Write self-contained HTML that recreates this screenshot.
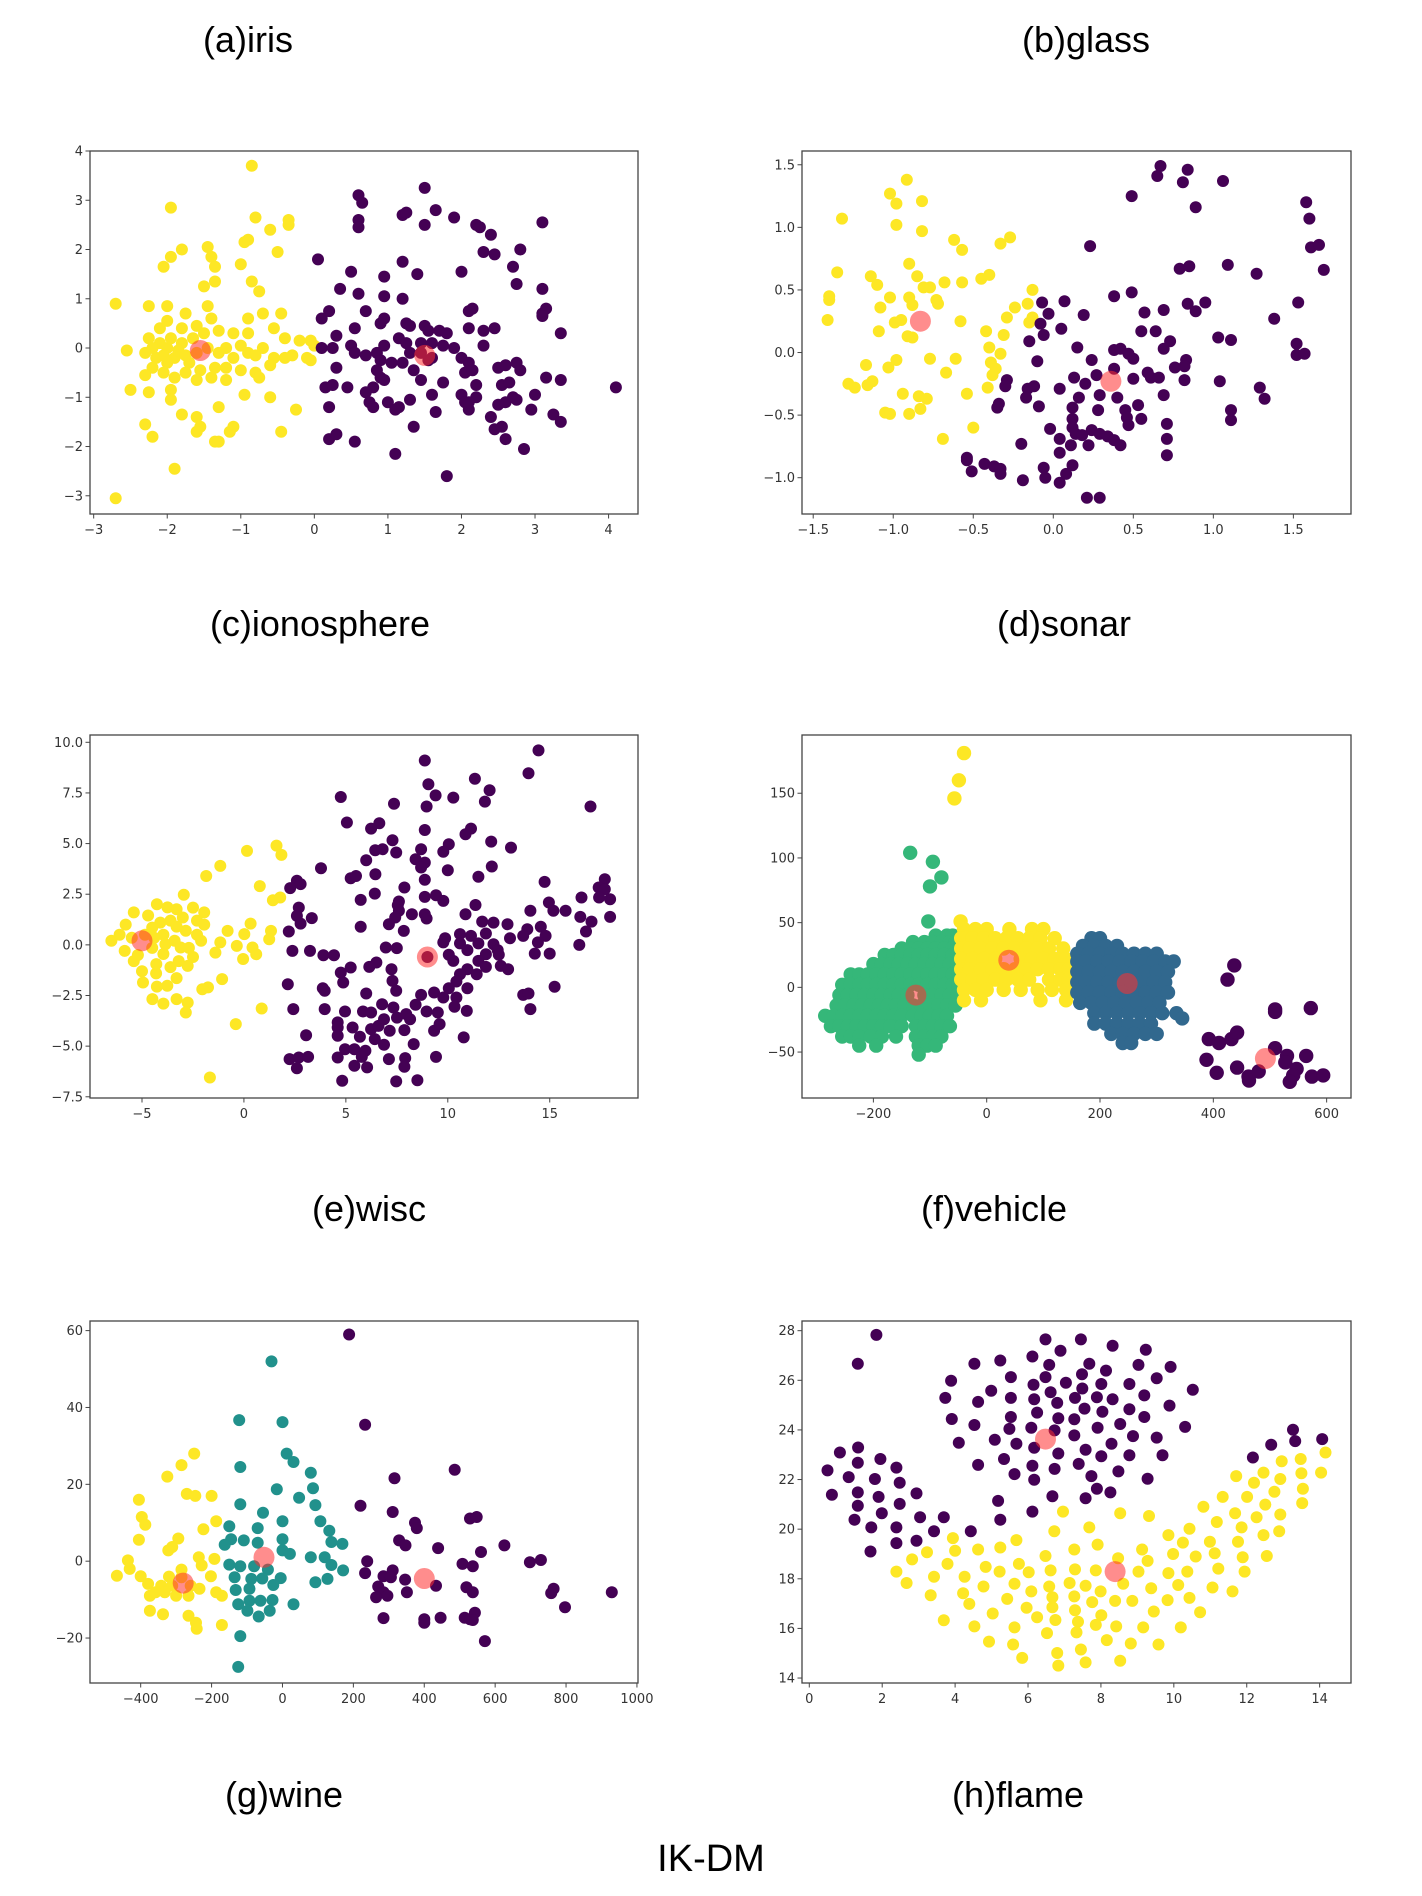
<!DOCTYPE html>
<html><head><meta charset="utf-8"><style>
html,body{margin:0;padding:0;background:#fff;}
#page{position:relative;width:1422px;height:1896px;overflow:hidden;background:#fff;font-family:"Liberation Sans",sans-serif;}
.title{position:absolute;font-size:36px;color:#000;white-space:nowrap;transform:translateX(-50%);line-height:1;}
svg{position:absolute;left:0;top:0;}
</style></head><body>
<div id="page">
<div class="title" style="left:248px;top:22px">(a)iris</div>
<div class="title" style="left:1086px;top:22px">(b)glass</div>
<div class="title" style="left:320px;top:606px">(c)ionosphere</div>
<div class="title" style="left:1064px;top:606px">(d)sonar</div>
<div class="title" style="left:369px;top:1191px">(e)wisc</div>
<div class="title" style="left:994px;top:1191px">(f)vehicle</div>
<div class="title" style="left:284px;top:1777px">(g)wine</div>
<div class="title" style="left:1018px;top:1777px">(h)flame</div>
<div class="title" style="left:711px;top:1840px;font-size:38px">IK-DM</div>
<svg id="chart" width="1422" height="1896" xmlns="http://www.w3.org/2000/svg"></svg>
</div>
<script>
const YEL="#fde725",PUR="#440154",GRN="#35b779",BLU="#31688e",TEA="#21918c";
// ---- iris ----
const irisXTicks=[-3,-2,-1,0,1,2,3,4];
const irisYTicks=[-3,-2,-1,0,1,2,3,4];
const irisYellow=[[-0.85,3.7],[-1.95,2.85],[-0.8,2.65],[-0.35,2.6],[-0.35,2.5],[-0.6,2.4],[-1.45,2.05],[-1.8,2.0],[-1.95,1.85],[-2.05,1.65],[-0.95,2.15],[-0.9,2.2],[-0.5,1.95],[-1.4,1.85],[-1.35,1.65],[-1.0,1.7],[-1.35,1.35],[-1.5,1.25],[-0.85,1.35],[-0.75,1.15],[-2.7,0.9],[-2.25,0.85],[-2.0,0.85],[-1.75,0.7],[-1.45,0.85],[-1.4,0.6],[-2.0,0.55],[-0.7,0.7],[-0.45,0.7],[-0.9,0.6],[-0.55,0.4],[-2.1,0.4],[-1.6,0.45],[-1.8,0.4],[-1.3,0.35],[-1.1,0.3],[-0.9,0.3],[-0.4,0.2],[-0.2,0.15],[-0.05,0.15],[0.0,0.05],[-2.55,-0.05],[-2.25,0.2],[-2.3,-0.1],[-2.15,-0.2],[-2.0,0.0],[-1.9,-0.2],[-1.8,0.1],[-1.7,-0.3],[-1.65,0.2],[-1.45,0.0],[-1.3,-0.1],[-1.2,0.0],[-1.1,-0.2],[-1.0,0.05],[-0.9,-0.1],[-0.8,-0.15],[-0.7,0.0],[-0.55,-0.2],[-0.4,-0.2],[-0.3,-0.15],[-0.1,-0.2],[-0.05,-0.25],[-2.2,-0.4],[-2.05,-0.5],[-1.9,-0.6],[-1.75,-0.5],[-2.3,-0.55],[-1.55,-0.45],[-1.35,-0.4],[-1.2,-0.4],[-1.0,-0.45],[-0.8,-0.5],[-0.6,-0.35],[-1.6,-0.65],[-1.4,-0.6],[-1.2,-0.65],[-0.75,-0.6],[-2.5,-0.85],[-2.25,-0.9],[-1.95,-0.85],[-1.95,-1.05],[-0.95,-0.95],[-0.6,-1.0],[-0.25,-1.25],[-1.3,-1.2],[-1.8,-1.35],[-1.6,-1.4],[-1.55,-1.6],[-1.6,-1.7],[-1.1,-1.6],[-1.15,-1.7],[-0.45,-1.7],[-2.3,-1.55],[-2.2,-1.8],[-1.35,-1.9],[-1.3,-1.9],[-1.9,-2.45],[-2.7,-3.05],[-2.0,-0.3],[-2.1,0.1],[-1.85,-0.05],[-1.6,-0.1],[-1.5,0.3],[-2.2,0.0],[-2.05,-0.15],[-1.75,-0.15],[-1.95,0.2]];
const irisPurple=[[0.05,1.8],[0.5,1.55],[0.35,1.2],[0.6,1.1],[0.6,3.1],[0.65,2.95],[0.6,2.6],[0.6,2.45],[1.2,2.7],[1.25,2.75],[1.5,3.25],[1.65,2.8],[1.5,2.5],[1.9,2.65],[2.2,2.5],[2.25,2.45],[2.4,2.3],[3.1,2.55],[2.3,1.95],[2.45,1.9],[2.8,2.0],[2.7,1.65],[1.2,1.75],[0.95,1.45],[1.4,1.5],[2.0,1.55],[2.75,1.3],[3.1,1.2],[0.95,1.05],[1.2,1.0],[0.1,0.6],[0.2,0.75],[0.7,0.75],[0.95,0.6],[0.9,0.5],[0.55,0.4],[1.25,0.5],[1.3,0.45],[1.5,0.45],[1.55,0.35],[1.7,0.35],[1.8,0.3],[2.1,0.75],[2.15,0.8],[2.1,0.4],[2.3,0.35],[2.45,0.4],[3.1,0.7],[3.15,0.8],[3.1,0.65],[3.35,0.3],[0.3,0.25],[0.1,0.0],[0.25,0.0],[0.5,0.05],[0.55,-0.1],[0.7,-0.15],[0.85,-0.1],[0.95,0.05],[1.15,0.2],[1.25,0.1],[1.3,-0.1],[1.45,0.1],[1.6,0.1],[1.75,0.05],[1.9,0.0],[2.3,0.05],[0.9,-0.25],[1.05,-0.3],[1.2,-0.3],[1.35,-0.45],[1.45,-0.65],[0.3,-0.4],[0.85,-0.45],[0.9,-0.6],[0.8,-0.8],[0.95,-0.65],[0.15,-0.8],[0.25,-0.75],[0.45,-0.8],[0.7,-0.9],[0.75,-1.1],[0.8,-1.2],[1.0,-1.1],[1.15,-1.2],[1.3,-1.05],[1.6,-0.95],[1.75,-0.7],[2.0,-0.2],[2.1,-0.3],[2.05,-0.5],[2.15,-0.45],[2.2,-0.75],[2.0,-0.95],[2.05,-1.1],[2.1,-1.25],[2.2,-1.0],[2.5,-0.4],[2.6,-0.35],[2.75,-0.3],[2.8,-0.45],[2.55,-0.75],[2.65,-0.7],[2.6,-1.1],[2.7,-1.0],[2.75,-1.05],[2.5,-1.15],[3.0,-0.95],[3.15,-0.6],[3.35,-0.65],[2.95,-1.25],[3.25,-1.35],[3.35,-1.5],[2.4,-1.4],[2.45,-1.65],[2.55,-1.6],[2.6,-1.85],[2.85,-2.05],[1.65,-1.3],[1.35,-1.6],[1.1,-1.25],[0.2,-1.2],[0.2,-1.85],[0.3,-1.75],[0.55,-1.9],[1.1,-2.15],[1.8,-2.6],[4.1,-0.8],[1.6,-0.2],[1.45,-0.1],[1.55,-0.25],[2.1,-1.1]];
const irisCenters=[[-1.55,-0.05],[1.5,-0.15]];
// ---- glass ----
const glassXTicks=[-1.5,-1.0,-0.5,0.0,0.5,1.0,1.5];
const glassYTicks=[-1.0,-0.5,0.0,0.5,1.0,1.5];
const glassYellow=[[-0.915,1.38],[-1.02,1.27],[-0.98,1.19],[-0.82,1.21],[-1.32,1.07],[-0.98,1.02],[-0.82,0.97],[-0.62,0.9],[-0.57,0.82],[-0.33,0.87],[-0.27,0.92],[-0.9,0.71],[-1.35,0.64],[-1.14,0.61],[-1.1,0.54],[-0.85,0.61],[-0.81,0.52],[-0.77,0.52],[-0.68,0.56],[-0.57,0.56],[-0.45,0.59],[-0.4,0.62],[-0.13,0.5],[-1.4,0.45],[-1.4,0.42],[-1.02,0.44],[-0.9,0.44],[-0.88,0.38],[-0.73,0.42],[-0.72,0.39],[-1.08,0.36],[-0.24,0.36],[-0.16,0.39],[-1.41,0.26],[-0.99,0.24],[-0.95,0.26],[-0.58,0.25],[-0.29,0.28],[-0.13,0.28],[-0.15,0.24],[-1.09,0.17],[-0.42,0.17],[-0.31,0.14],[-0.91,0.13],[-0.88,0.12],[-0.4,0.04],[-0.33,-0.01],[-0.98,-0.06],[-1.03,-0.12],[-1.17,-0.1],[-0.77,-0.05],[-0.61,-0.05],[-0.39,-0.08],[-0.36,-0.13],[-0.38,-0.18],[-0.67,-0.16],[-1.28,-0.25],[-1.24,-0.28],[-1.16,-0.26],[-1.13,-0.23],[-0.41,-0.28],[-0.94,-0.33],[-0.84,-0.35],[-0.79,-0.37],[-0.54,-0.33],[-1.05,-0.48],[-1.02,-0.49],[-0.9,-0.49],[-0.83,-0.45],[-0.5,-0.6],[-0.69,-0.69]];
const glassPurple=[[0.67,1.49],[0.65,1.41],[0.84,1.46],[0.81,1.36],[1.06,1.37],[0.49,1.25],[0.89,1.16],[1.58,1.2],[1.6,1.07],[1.61,0.84],[1.66,0.86],[1.69,0.66],[0.23,0.85],[0.79,0.67],[0.85,0.69],[1.09,0.7],[1.27,0.63],[0.38,0.45],[0.49,0.48],[-0.07,0.4],[0.07,0.41],[-0.03,0.31],[0.19,0.3],[0.57,0.32],[0.69,0.34],[0.84,0.39],[0.89,0.33],[0.95,0.4],[1.53,0.4],[1.38,0.27],[-0.08,0.23],[0.05,0.19],[-0.06,0.14],[-0.15,0.09],[0.55,0.17],[0.64,0.17],[0.73,0.09],[0.69,0.03],[1.03,0.12],[1.11,0.1],[1.52,0.07],[1.52,-0.02],[1.57,-0.01],[0.15,0.04],[-0.1,-0.07],[0.24,-0.06],[0.38,0.02],[0.42,0.03],[0.47,-0.01],[0.5,-0.05],[0.76,-0.12],[0.83,-0.06],[0.82,-0.11],[-0.29,-0.22],[-0.3,-0.27],[-0.16,-0.29],[-0.12,-0.27],[-0.17,-0.36],[0.04,-0.29],[0.13,-0.2],[0.27,-0.18],[0.2,-0.25],[0.38,-0.13],[0.5,-0.21],[0.59,-0.16],[0.61,-0.2],[0.66,-0.2],[0.82,-0.22],[1.04,-0.23],[1.29,-0.28],[1.32,-0.37],[-0.34,-0.41],[-0.35,-0.44],[-0.09,-0.43],[0.16,-0.36],[0.29,-0.34],[0.4,-0.36],[0.12,-0.44],[0.28,-0.46],[0.45,-0.46],[0.53,-0.42],[0.69,-0.34],[0.46,-0.52],[0.55,-0.53],[0.47,-0.58],[0.12,-0.53],[0.12,-0.6],[-0.02,-0.61],[0.14,-0.65],[0.18,-0.66],[0.24,-0.62],[0.29,-0.65],[0.34,-0.67],[0.38,-0.7],[0.42,-0.74],[0.22,-0.74],[0.04,-0.69],[0.11,-0.74],[-0.2,-0.73],[0.04,-0.8],[0.71,-0.57],[1.11,-0.46],[1.11,-0.54],[0.71,-0.69],[0.71,-0.82],[-0.54,-0.84],[-0.54,-0.86],[-0.43,-0.89],[-0.37,-0.91],[-0.33,-0.93],[-0.33,-0.97],[-0.51,-0.95],[-0.19,-1.02],[-0.06,-0.92],[-0.05,-1.0],[0.04,-1.04],[0.08,-0.97],[0.12,-0.9],[0.21,-1.16],[0.29,-1.16]];
const glassCenters=[[-0.83,0.25],[0.36,-0.23]];
// ---- ionosphere ----
const ionoXTicks=[-5,0,5,10,15];
const ionoYTicks=[-7.5,-5.0,-2.5,0.0,2.5,5.0,7.5,10.0];
const ionoYellow=[[1.6,4.9],[1.84,4.44],[0.15,4.64],[-1.16,3.9],[-1.85,3.4],[0.78,2.9],[-2.95,2.47],[1.42,2.2],[1.78,2.34],[-4.27,2.0],[-5.4,1.6],[-3.3,1.76],[-2.5,1.84],[-1.95,1.6],[0.33,1.05],[-0.8,0.69],[0.02,0.53],[1.33,0.69],[1.24,0.28],[-1.16,0.12],[-0.35,-0.05],[0.42,-0.13],[0.6,-0.46],[-0.04,-0.7],[-1.4,-0.38],[-1.07,-1.69],[-1.76,-2.1],[-2.04,-2.19],[-3.3,-1.64],[-2.76,-1.04],[-3.76,-2.02],[-4.31,-1.41],[-4.95,-1.86],[-4.27,-2.06],[-4.49,-2.68],[-3.95,-2.9],[-3.3,-2.68],[-2.76,-2.85],[-2.85,-3.34],[0.87,-3.14],[-0.4,-3.91],[-1.67,-6.55],[-6.5,0.2],[-6.1,0.5],[-5.8,1.0],[-5.85,-0.3],[-5.4,-0.8],[-5.0,-1.3],[-4.5,0.85],[-4.5,-0.15],[-3.95,0.5],[-3.95,-0.45],[-3.6,1.2],[-3.4,0.2],[-3.2,-0.8],[-2.85,0.7],[-2.7,-0.15],[-2.3,0.5],[-2.3,1.2],[-1.95,1.0],[-2.5,-0.6],[-3.0,1.35],[-3.75,1.85],[-4.7,1.45],[-4.3,-0.95],[-3.6,-1.1],[-4.85,0.5],[-5.5,0.35],[-3.85,0.03],[-3.1,-0.13],[-4.4,0.35],[-5.2,-0.5],[-4.1,1.1],[-3.3,0.9],[-2.1,0.2]];
const ionoPurple=[[8.87,9.1],[14.45,9.6],[13.96,8.47],[11.33,8.2],[9.05,7.93],[12.05,7.63],[9.4,7.38],[10.27,7.27],[4.75,7.3],[11.82,7.07],[7.36,6.97],[8.96,6.83],[17.0,6.83],[5.05,6.04],[6.64,6.0],[6.24,5.74],[8.87,5.67],[11.14,5.74],[10.87,5.46],[7.29,5.16],[12.13,5.1],[10.05,4.97],[13.1,4.8],[6.44,4.67],[6.8,4.72],[7.47,4.56],[8.69,4.72],[9.78,4.6],[6.0,4.18],[8.42,4.23],[8.87,4.06],[8.69,3.82],[3.78,3.78],[12.16,3.87],[10.0,3.68],[5.24,3.29],[5.5,3.4],[6.45,3.49],[11.5,3.36],[8.87,3.21],[14.75,3.11],[17.7,3.24],[2.6,3.16],[2.78,3.0],[2.27,2.8],[17.4,2.83],[17.7,2.75],[7.87,2.83],[6.42,2.53],[8.87,2.37],[9.42,2.45],[9.78,2.17],[5.73,2.22],[7.6,2.14],[16.56,2.34],[17.42,2.34],[17.96,2.25],[2.69,1.84],[11.36,1.97],[7.55,1.96],[7.6,1.68],[14.96,2.09],[15.18,1.68],[15.78,1.68],[14.05,1.68],[10.87,1.51],[2.6,1.43],[3.33,1.32],[8.24,1.51],[8.87,1.51],[8.96,1.3],[17.96,1.38],[16.5,1.38],[17.05,1.15],[2.78,1.05],[7.42,1.35],[7.11,1.02],[11.69,1.15],[12.24,1.1],[12.93,1.02],[13.9,0.77],[14.56,0.89],[5.73,0.89],[7.84,0.69],[16.78,0.66],[2.2,0.66],[10.6,0.53],[11.14,0.44],[11.87,0.56],[13.7,0.44],[14.8,0.44],[9.87,0.33],[13.05,0.33],[14.42,0.12],[9.78,0.12],[16.45,0.0],[10.6,0.07],[11.5,0.07],[12.24,0.03],[6.96,-0.13],[7.5,-0.16],[2.38,-0.3],[3.24,-0.3],[10.96,-0.26],[12.45,-0.26],[14.27,-0.43],[15.0,-0.43],[3.9,-0.51],[4.42,-0.51],[10.05,-0.49],[11.87,-0.46],[12.5,-0.49],[10.27,-0.79],[11.5,-0.79],[6.5,-0.87],[6.15,-1.09],[10.96,-1.2],[11.87,-1.09],[12.6,-1.04],[5.24,-1.12],[4.75,-1.37],[7.24,-1.2],[12.96,-1.2],[10.6,-1.45],[11.42,-1.45],[10.42,-1.81],[10.05,-2.14],[15.24,-2.07],[2.15,-1.94],[4.87,-1.86],[7.29,-1.78],[3.87,-2.14],[9.33,-2.35],[10.96,-2.14],[13.7,-2.47],[13.96,-2.4],[3.96,-2.27],[6.0,-2.4],[7.47,-2.27],[9.78,-2.6],[10.42,-2.6],[8.69,-2.47],[10.33,-3.06],[10.93,-3.26],[14.05,-3.17],[2.42,-3.17],[3.96,-3.17],[4.96,-3.29],[5.84,-3.29],[6.24,-3.34],[6.78,-2.93],[7.33,-3.09],[8.42,-2.96],[8.96,-3.29],[9.51,-3.34],[7.51,-3.59],[7.96,-3.42],[8.15,-3.67],[6.87,-3.67],[4.6,-3.83],[4.6,-4.08],[5.33,-4.08],[6.24,-4.16],[6.6,-4.0],[7.15,-4.24],[7.87,-4.21],[9.33,-4.24],[9.6,-3.91],[3.05,-4.46],[4.6,-4.49],[5.69,-4.54],[6.42,-4.65],[6.87,-4.93],[8.33,-4.9],[10.78,-4.57],[4.96,-5.15],[5.42,-5.15],[5.96,-5.23],[5.78,-5.53],[2.24,-5.64],[2.69,-5.56],[3.15,-5.53],[4.6,-5.56],[7.11,-5.64],[7.91,-5.59],[9.42,-5.53],[2.6,-6.09],[5.42,-5.97],[6.04,-6.05],[7.87,-6.02],[4.82,-6.71],[7.47,-6.74],[8.51,-6.68],[9.0,-0.6]];
const ionoCenters=[[-5.0,0.2],[9.0,-0.6]];
// ---- vehicle ----
const vehXTicks=[-200,0,200,400,600];
const vehYTicks=[-50,0,50,100,150];
const vehGreen=[[-135,104],[-95,97],[-80,85],[-100,78],[-103,51],[-90,40],[-70,40],[-60,40],[-130,35],[-110,35],[-95,35],[-80,35],[-65,35],[-55,35],[-150,30],[-135,30],[-120,30],[-105,30],[-90,30],[-75,30],[-60,30],[-180,25],[-165,25],[-150,25],[-135,25],[-120,25],[-105,25],[-90,25],[-75,25],[-60,25],[-50,25],[-200,18],[-185,18],[-170,18],[-155,18],[-140,18],[-125,18],[-110,18],[-95,18],[-80,18],[-65,18],[-52,18],[-240,10],[-225,10],[-210,10],[-195,10],[-180,10],[-165,10],[-150,10],[-135,10],[-120,10],[-105,10],[-90,10],[-75,10],[-60,10],[-50,10],[-255,2],[-240,2],[-225,2],[-210,2],[-195,2],[-180,2],[-165,2],[-150,2],[-135,2],[-120,2],[-105,2],[-90,2],[-75,2],[-60,2],[-50,2],[-260,-6],[-245,-6],[-230,-6],[-215,-6],[-200,-6],[-185,-6],[-170,-6],[-155,-6],[-140,-6],[-110,-6],[-95,-6],[-80,-6],[-65,-6],[-52,-6],[-265,-14],[-250,-14],[-235,-14],[-220,-14],[-205,-14],[-190,-14],[-175,-14],[-160,-14],[-145,-14],[-130,-14],[-115,-14],[-100,-14],[-85,-14],[-70,-14],[-55,-14],[-285,-22],[-270,-22],[-255,-22],[-240,-22],[-225,-22],[-210,-22],[-195,-22],[-180,-22],[-165,-22],[-150,-22],[-130,-22],[-115,-22],[-100,-22],[-85,-22],[-70,-22],[-275,-30],[-260,-30],[-245,-30],[-230,-30],[-215,-30],[-200,-30],[-185,-30],[-170,-30],[-150,-30],[-125,-30],[-110,-30],[-95,-30],[-80,-30],[-65,-30],[-255,-38],[-240,-38],[-225,-38],[-205,-38],[-185,-38],[-160,-38],[-125,-38],[-110,-38],[-95,-38],[-80,-38],[-225,-45],[-195,-45],[-120,-45],[-105,-45],[-90,-45],[-120,-52]];
const vehYellow=[[-40,181],[-49,160],[-57,146],[-46,51],[-40,45],[-20,45],[0,45],[40,45],[80,45],[100,45],[-45,38],[-25,38],[-5,38],[15,38],[35,38],[55,38],[75,38],[95,38],[120,38],[-45,30],[-30,30],[-10,30],[10,30],[30,30],[50,30],[70,30],[90,30],[110,30],[135,30],[-45,22],[-25,22],[-5,22],[15,22],[60,22],[80,22],[100,22],[120,22],[140,22],[-45,14],[-30,14],[-10,14],[10,14],[30,14],[50,14],[70,14],[90,14],[110,14],[130,14],[145,14],[-45,6],[-25,6],[-5,6],[15,6],[35,6],[55,6],[75,6],[110,6],[130,6],[145,6],[-40,-2],[-20,-2],[0,-2],[30,-2],[60,-2],[90,-2],[115,-2],[140,-2],[-40,-10],[-10,-10],[95,-10],[140,-10]];
const vehBlue=[[185,38],[200,38],[170,32],[190,32],[210,32],[230,32],[160,26],[180,26],[200,26],[220,26],[240,26],[260,26],[280,26],[300,26],[160,20],[175,20],[195,20],[215,20],[235,20],[255,20],[275,20],[295,20],[315,20],[330,20],[160,12],[180,12],[200,12],[220,12],[240,12],[260,12],[280,12],[300,12],[320,12],[160,4],[175,4],[195,4],[215,4],[235,4],[255,4],[275,4],[295,4],[315,4],[160,-4],[180,-4],[200,-4],[220,-4],[240,-4],[260,-4],[280,-4],[300,-4],[320,-4],[165,-12],[185,-12],[205,-12],[225,-12],[245,-12],[265,-12],[285,-12],[305,-12],[190,-20],[210,-20],[230,-20],[250,-20],[270,-20],[290,-20],[310,-20],[335,-20],[345,-24],[190,-28],[210,-28],[230,-28],[250,-28],[270,-28],[290,-28],[220,-36],[240,-36],[260,-36],[280,-36],[300,-36],[240,-43],[255,-43]];
const vehPurple=[[437,17],[425,6],[509,-17],[509,-19],[572,-16],[392,-40],[410,-43],[432,-40],[442,-35],[388,-56],[406,-66],[442,-62],[462,-69],[463,-72],[480,-65],[509,-47],[530,-53],[527,-58],[564,-53],[547,-63],[541,-68],[535,-73],[574,-69],[594,-68]];
const vehCenters=[[-125,-6],[39,21],[248,3],[492,-55]];
// ---- wine ----
const wineXTicks=[-400,-200,0,200,400,600,800,1000];
const wineYTicks=[-20,0,20,40,60];
const wineYellow=[[-249,28],[-285,25],[-325,22],[-405,16],[-270,17.5],[-246,17],[-200,17],[-397,11.5],[-387,9.5],[-187,10.4],[-223,8.3],[-405,5.6],[-294,5.9],[-311,3.7],[-322,2.8],[-236,1],[-192,0.6],[-436,0.2],[-467,-3.8],[-431,-2],[-400,-3.9],[-285,-2.2],[-228,-1.1],[-202,-3.9],[-379,-5.9],[-342,-6.4],[-311,-6.4],[-259,-6.4],[-234,-7.2],[-187,-8.1],[-171,-9],[-374,-9],[-332,-8.1],[-265,-9],[-374,-12.9],[-337,-13.8],[-265,-14.2],[-244,-16],[-242,-17.6],[-171,-16.6],[-285,-4.2],[-358,-8.1],[-300,-9],[-320,-4]];
const wineTeal=[[-31,52],[-122,36.7],[0,36.2],[12,28],[31,25.8],[-119,24.5],[80,23],[-16,18.7],[47,16.5],[86,19],[93,14.6],[-119,14.8],[-55,12.6],[0,10.4],[107,10.4],[-150,9.1],[-70,8.6],[132,7.9],[-145,5.7],[-109,5.4],[-70,4.8],[0,5.7],[138,5],[169,4.5],[-163,4.3],[0,2.8],[21,1.9],[80,1],[119,1],[-150,-0.9],[-119,-1.3],[-80,-1.3],[-41,-2.2],[138,-1],[171,-2.4],[-135,-4.2],[-88,-4.6],[-57,-4.5],[-5,-4.4],[93,-5.5],[127,-4.6],[-132,-7.5],[-93,-7.2],[-26,-6.2],[-93,-10.3],[-62,-10.3],[-28,-10.1],[31,-11.2],[-125,-11.2],[-99,-12.9],[-67,-14.4],[-36,-12.9],[-119,-19.5],[-125,-27.5]];
const winePurple=[[188,59],[233,35.5],[486,23.8],[316,21.6],[220,14.4],[311,12.8],[529,11.1],[548,11.5],[374,10],[379,8.6],[329,5.4],[347,4.1],[439,3.4],[626,4.1],[560,2.4],[698,-0.3],[729,0.3],[239,0],[233,-3.1],[508,-0.7],[537,-1.3],[285,-3.9],[311,-2.4],[306,-4.2],[346,-4.8],[433,-6.4],[270,-6.6],[285,-8.1],[264,-9.4],[296,-9],[351,-8.1],[519,-6.8],[537,-8.1],[765,-7.2],[758,-8.3],[929,-8.1],[797,-12],[285,-14.8],[400,-15.1],[400,-16],[446,-14.7],[514,-14.7],[529,-15.1],[543,-13.4],[537,-15.3],[571,-20.8]];
const wineCenters=[[-280,-5.7],[-52,1],[400,-4.5]];
// ---- flame ----
const flameXTicks=[0,2,4,6,8,10,12,14];
const flameYTicks=[14,16,18,20,22,24,26,28];
const flamePurple=[[1.84,27.83],[1.33,26.67],[0.5,22.37],[0.62,21.39],[0.84,23.09],[1.08,22.1],[1.34,23.29],[1.33,22.68],[1.33,21.48],[1.33,20.94],[1.24,20.38],[1.8,22.02],[1.9,21.3],[1.99,20.64],[1.7,20.07],[1.68,19.1],[1.95,22.83],[2.39,22.48],[2.48,21.87],[2.48,21.02],[2.39,20.07],[2.39,19.44],[2.94,21.44],[3.04,20.48],[2.94,19.53],[3.42,19.92],[3.69,20.48],[4.43,19.92],[3.89,25.98],[3.73,25.29],[3.91,24.44],[4.1,23.48],[4.53,26.67],[4.63,25.13],[4.53,24.2],[4.63,22.59],[4.99,25.58],[5.09,23.6],[5.24,26.8],[5.34,22.83],[5.18,21.14],[5.24,20.38],[5.53,26.13],[5.53,25.29],[5.53,24.52],[5.49,24.04],[5.68,23.44],[5.63,22.22],[6.12,26.96],[6.15,25.82],[6.17,25.24],[6.25,24.7],[6.09,24.09],[6.17,23.28],[6.12,22.56],[6.17,21.99],[6.12,20.71],[6.48,27.65],[6.58,26.62],[6.48,26.13],[6.62,25.52],[6.8,25.09],[6.83,24.47],[6.73,23.98],[6.83,23.05],[6.73,22.43],[6.67,21.33],[6.89,27.19],[7.04,25.9],[7.27,24.43],[7.29,25.29],[7.27,23.78],[7.39,22.63],[7.48,26.24],[7.49,25.67],[7.55,24.86],[7.58,23.2],[7.68,26.67],[7.74,22.14],[7.58,21.25],[7.45,27.65],[7.89,25.32],[8.01,25.85],[7.91,24.09],[8.04,24.73],[8.01,22.94],[7.89,21.63],[8.14,26.39],[8.29,23.44],[8.32,25.24],[8.32,27.39],[8.26,21.48],[8.48,22.33],[8.53,24.24],[8.78,25.85],[8.78,24.83],[8.88,23.75],[8.78,22.98],[9.03,26.62],[9.19,25.39],[9.23,27.23],[9.19,24.52],[9.28,22.03],[9.53,26.08],[9.53,23.69],[9.69,22.98],[9.91,26.54],[9.88,24.98],[10.31,24.12],[10.52,25.62],[12.17,22.89],[12.67,23.4],[13.27,24.01],[13.33,23.55],[14.07,23.63]];
const flameYellow=[[6.96,20.71],[8.53,20.64],[9.32,20.53],[3.94,19.64],[6.72,19.92],[7.68,20.07],[7.91,19.38],[5.68,19.56],[5.24,19.26],[4.63,19.18],[4.0,19.13],[3.23,19.07],[2.82,18.78],[2.39,18.29],[2.67,17.83],[3.42,18.08],[3.79,18.6],[4.26,18.08],[4.22,17.42],[4.39,16.99],[3.33,17.34],[3.69,16.33],[4.53,16.08],[4.84,18.48],[4.78,17.69],[5.03,16.6],[4.93,15.47],[5.22,18.29],[5.43,17.19],[5.63,17.8],[5.63,16.04],[5.59,15.35],[5.84,14.81],[5.75,18.6],[5.96,16.83],[6.02,18.26],[6.09,17.49],[6.25,16.45],[6.52,15.81],[6.48,18.92],[6.58,17.69],[6.62,18.34],[6.67,17.26],[6.67,16.85],[6.75,16.34],[6.8,15.01],[6.83,14.5],[7.14,17.83],[7.27,19.18],[7.29,18.38],[7.27,17.29],[7.29,16.73],[7.37,16.27],[7.33,15.84],[7.45,15.15],[7.58,14.63],[7.58,17.72],[7.76,17.06],[7.86,18.34],[7.86,16.14],[7.99,17.49],[8.01,16.53],[8.16,15.53],[8.39,17.11],[8.42,16.08],[8.47,18.83],[8.53,14.7],[8.61,17.8],[8.86,17.11],[8.82,15.39],[9.03,18.29],[9.13,19.18],[9.16,16.04],[9.28,18.72],[9.38,17.62],[9.45,16.68],[9.58,15.35],[9.85,19.76],[9.85,18.23],[9.83,17.14],[9.98,19.0],[10.12,17.75],[10.19,16.04],[10.25,19.46],[10.37,18.29],[10.43,17.23],[10.43,20.02],[10.6,18.9],[10.72,16.65],[10.81,20.9],[10.99,19.49],[11.12,19.03],[11.06,17.65],[11.22,18.41],[11.18,20.29],[11.34,21.3],[11.68,20.64],[11.76,19.49],[11.61,17.49],[11.86,20.07],[11.89,18.87],[11.94,18.29],[12.01,21.3],[12.2,21.87],[12.27,20.48],[12.46,22.28],[12.51,20.99],[12.46,19.76],[12.55,18.92],[12.76,21.51],[12.92,20.59],[12.89,19.92],[12.92,22.02],[12.96,22.74],[13.48,22.83],[13.5,22.25],[13.54,21.63],[13.52,21.05],[14.04,22.28],[14.16,23.09],[11.71,22.14]];
const flameCenters=[[6.48,23.63],[8.39,18.29]];

const NS="http://www.w3.org/2000/svg";
const svg=document.getElementById('chart');
function mk(tag,attrs,parent){const e=document.createElementNS(NS,tag);for(const k in attrs)e.setAttribute(k,attrs[k]);(parent||svg).appendChild(e);return e;}
function fmt(v,dec){let s=dec?v.toFixed(dec):String(v);return s.replace('-','\u2212');}
function plot(name,box,xlim,ylim,xt,yt,dec,series,centers,rad){
  const g=mk('g',{});
  
  
  const sx=v=>box[0]+(v-xlim[0])/(xlim[1]-xlim[0])*(box[2]-box[0]);
  const sy=v=>box[3]-(v-ylim[0])/(ylim[1]-ylim[0])*(box[3]-box[1]);
  series.forEach(s=>{
    s.pts.forEach(p=>{
      const c=mk('circle',{cx:sx(p[0]).toFixed(1),cy:sy(p[1]).toFixed(1),r:rad,fill:s.color},g);
      
      
    });
  });
  centers.forEach(p=>{
    const c=mk('circle',{cx:sx(p[0]).toFixed(1),cy:sy(p[1]).toFixed(1),r:10.5,fill:'#ff3030','fill-opacity':0.55},g);
    
    
  });
  const fr=mk('rect',{x:box[0],y:box[1],width:box[2]-box[0],height:box[3]-box[1],fill:'none',stroke:'#444','stroke-width':1.3},g);
  
  
  xt.forEach(v=>{
    const x=sx(v);
    mk('line',{x1:x,x2:x,y1:box[3],y2:box[3]+4.5,stroke:'#444','stroke-width':1},g);
    const t=mk('text',{x:x,y:box[3]+20,'text-anchor':'middle','font-size':13,fill:'#333','font-family':'DejaVu Sans, Liberation Sans, sans-serif'},g);
    t.textContent=fmt(v,dec[0]);
    
    
  });
  yt.forEach(v=>{
    const y=sy(v);
    mk('line',{x1:box[0]-4.5,x2:box[0],y1:y,y2:y,stroke:'#444','stroke-width':1},g);
    const t=mk('text',{x:box[0]-7,y:y+4.5,'text-anchor':'end','font-size':13,fill:'#333','font-family':'DejaVu Sans, Liberation Sans, sans-serif'},g);
    t.textContent=fmt(v,dec[1]);
    
    
  });
}
const L=[90,638],R=[802,1351];
const r1=[151,514],r2=[735,1098],r3=[1321,1683];
plot('iris',[L[0],r1[0],L[1],r1[1]],[-3.05,4.4],[-3.37,4.0],irisXTicks,irisYTicks,[0,0],[{pts:irisYellow,color:YEL},{pts:irisPurple,color:PUR}],irisCenters,6);
plot('glass',[R[0],r1[0],R[1],r1[1]],[-1.57,1.86],[-1.29,1.61],glassXTicks,glassYTicks,[1,1],[{pts:glassYellow,color:YEL},{pts:glassPurple,color:PUR}],glassCenters,6);
plot('ionosphere',[L[0],r2[0],L[1],r2[1]],[-7.55,19.33],[-7.56,10.36],ionoXTicks,ionoYTicks,[0,1],[{pts:ionoYellow,color:YEL},{pts:ionoPurple,color:PUR}],ionoCenters,6);
plot('vehicle',[R[0],r2[0],R[1],r2[1]],[-326,643],[-85.5,195],vehXTicks,vehYTicks,[0,0],[{pts:vehGreen,color:GRN},{pts:vehYellow,color:YEL},{pts:vehBlue,color:BLU},{pts:vehPurple,color:PUR}],vehCenters,7.2);
plot('wine',[L[0],r3[0],L[1],r3[1]],[-543,1003],[-31.7,62.5],wineXTicks,wineYTicks,[0,0],[{pts:wineYellow,color:YEL},{pts:wineTeal,color:TEA},{pts:winePurple,color:PUR}],wineCenters,6);
plot('flame',[R[0],r3[0],R[1],r3[1]],[-0.2,14.86],[13.8,28.39],flameXTicks,flameYTicks,[0,0],[{pts:flamePurple,color:PUR},{pts:flameYellow,color:YEL}],flameCenters,6);
</script>
</body></html>
